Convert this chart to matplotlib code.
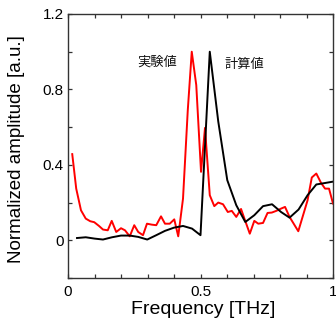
import numpy as np
import matplotlib
matplotlib.use("Agg")
import matplotlib.pyplot as plt
from matplotlib.ticker import MultipleLocator

plt.rcParams['font.family'] = ['Liberation Sans', 'Noto Sans CJK JP', 'DejaVu Sans']

# measured spectrum (red)
freq_exp = [0.016, 0.031, 0.049, 0.067, 0.084, 0.099, 0.117, 0.132, 0.150, 0.165,
            0.182, 0.200, 0.215, 0.233, 0.250, 0.265, 0.283, 0.298, 0.316, 0.333,
            0.351, 0.366, 0.384, 0.401, 0.416, 0.434, 0.452, 0.467, 0.484, 0.502,
            0.517, 0.535, 0.552, 0.567, 0.585, 0.603, 0.618, 0.635, 0.653, 0.668,
            0.686, 0.703, 0.718, 0.736, 0.753, 0.769, 0.786, 0.804, 0.819, 0.836,
            0.869, 0.904, 0.920, 0.937, 0.955, 0.970, 0.985, 1.000]
amp_exp = [0.457, 0.274, 0.159, 0.115, 0.101, 0.096, 0.076, 0.057, 0.053, 0.103,
           0.044, 0.064, 0.053, 0.021, 0.080, 0.044, 0.027, 0.088, 0.083, 0.080,
           0.127, 0.088, 0.088, 0.111, 0.021, 0.221, 0.690, 1.000, 0.823, 0.363,
           0.596, 0.239, 0.181, 0.200, 0.191, 0.150, 0.156, 0.124, 0.166, 0.106,
           0.035, 0.103, 0.088, 0.092, 0.145, 0.147, 0.156, 0.168, 0.177, 0.124,
           0.048, 0.212, 0.333, 0.354, 0.304, 0.274, 0.274, 0.195]

# calculated spectrum (black)
freq_calc = [0.034, 0.067, 0.100, 0.132, 0.166, 0.200, 0.233, 0.265, 0.299, 0.333,
             0.366, 0.400, 0.434, 0.468, 0.500, 0.535, 0.567, 0.601, 0.635, 0.669,
             0.703, 0.736, 0.770, 0.804, 0.836, 0.870, 0.904, 0.937, 0.971, 1.000]
amp_calc = [0.012, 0.016, 0.009, 0.004, 0.016, 0.025, 0.025, 0.018, 0.004, 0.027,
            0.050, 0.067, 0.076, 0.062, 0.027, 1.000, 0.630, 0.319, 0.186, 0.097,
            0.133, 0.181, 0.191, 0.150, 0.120, 0.163, 0.239, 0.296, 0.304, 0.311]

f = plt.figure(figsize=(3.36, 3.29), dpi=100)
ax = f.add_axes([68/336, 1-278/329, 265/336, 264/329])

ax.plot(freq_exp, amp_exp, c='red', lw=1.4)
ax.plot(freq_calc, amp_calc, c='black', lw=1.4)

ax.text(0.337, 0.944, '実験値', fontsize=9.5, ha='center', va='center',
        family=['Noto Sans CJK JP', 'DejaVu Sans'], color='#111111')
ax.text(0.667, 0.934, '計算値', fontsize=9.5, ha='center', va='center',
        family=['Noto Sans CJK JP', 'DejaVu Sans'], color='#111111')

ax.set_xlim(0, 1)
ax.set_ylim(-0.2, 1.2)
ax.set_xticks([0, 0.5, 1])
ax.set_xticklabels(['0', '0.5', '1'])
ax.set_yticks([0, 0.4, 0.8, 1.2])
ax.set_yticklabels(['0', '0.4', '0.8', '1.2'])
ax.xaxis.set_minor_locator(MultipleLocator(0.1))
ax.yaxis.set_minor_locator(MultipleLocator(0.2))
ax.tick_params(which='both', direction='in', top=True, right=True, length=3,
               width=0.9, color='#333333', labelsize=11)
ax.tick_params(axis='x', pad=5)
ax.tick_params(axis='y', pad=3)

for s in ax.spines.values():
    s.set_color('#333333')
    s.set_linewidth(1.0)

ax.set_xlabel('Frequency [THz]', fontsize=14)
ax.set_ylabel('Normalized amplitude [a.u.]', fontsize=13.5)
ax.xaxis.set_label_coords(0.51, -0.088)
ax.yaxis.set_label_coords(-0.162, 0.49)

plt.savefig('out.png', dpi=100)
